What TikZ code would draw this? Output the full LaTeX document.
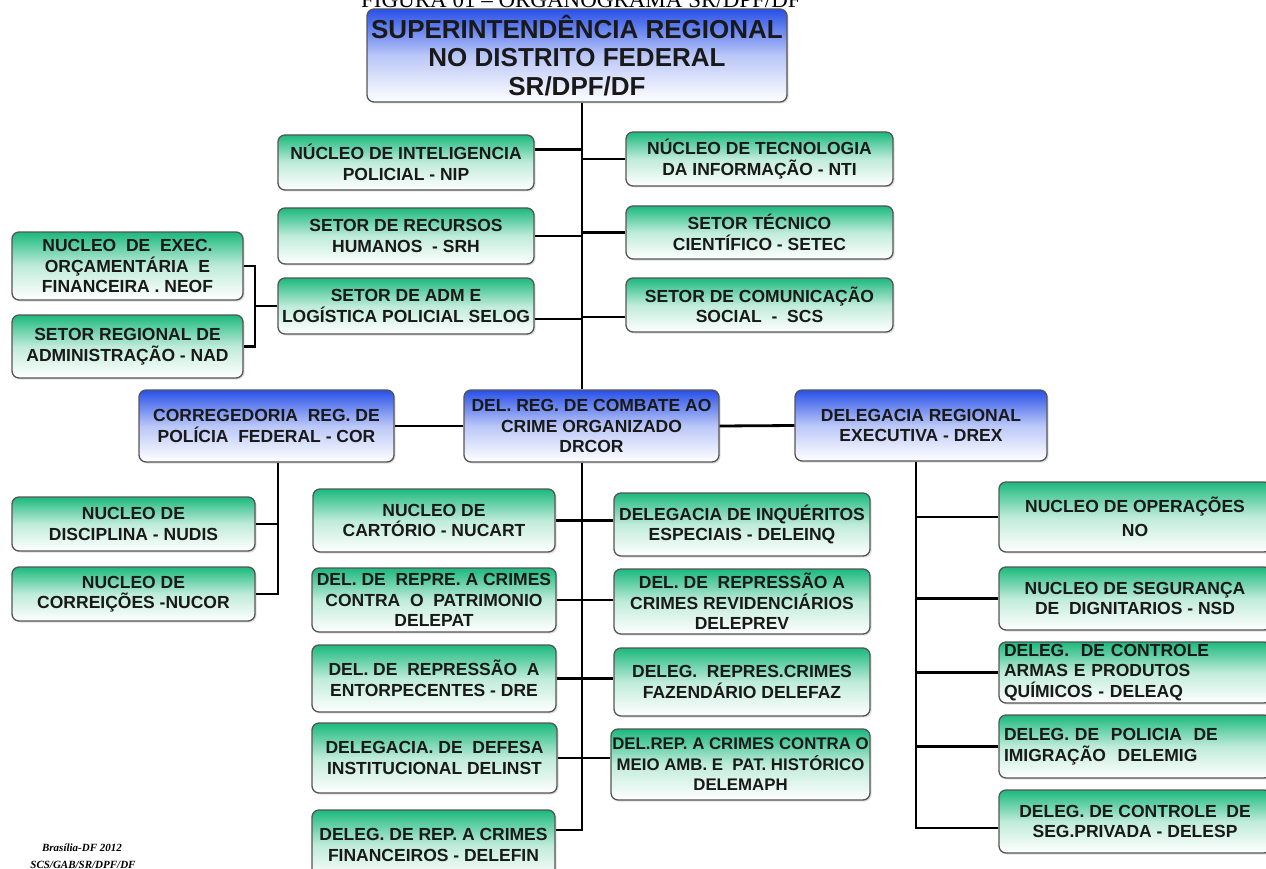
\documentclass[tikz,border=0pt]{standalone}
\usepackage{fontspec}
\setmainfont{Liberation Sans}
\newfontfamily\capfont{Liberation Serif}
\usetikzlibrary{shadows}
\definecolor{boxgreen}{RGB}{28,185,125}
\definecolor{boxblue}{RGB}{40,80,232}
\definecolor{boxline}{RGB}{85,85,85}
\begin{document}
\begin{tikzpicture}[x=1pt, y=-1pt,
  gbox/.style={draw=boxline, line width=1.3pt, rounded corners=7pt,
    top color=boxgreen, bottom color=white, middle color=boxgreen!28,
    align=center, inner sep=1pt, text=black!90,
    font=\bfseries\fontsize{17.5}{20.5}\selectfont,
    drop shadow={opacity=0.25, shadow xshift=1.5pt, shadow yshift=-1.5pt}},
  bbox/.style={gbox, top color=boxblue, bottom color=white, middle color=boxblue!32},
  sz/.style 2 args={minimum width=#1, minimum height=#2},
  link/.style={line width=2.8pt, black}]

% page
\fill[white] (0,0) rectangle (1266,869);
\useasboundingbox (0,0) rectangle (1266,869);

% caption, cut at the top edge
\node[anchor=base, font=\capfont\fontsize{23}{23}\selectfont] (caption) at (581,8) {FIGURA 01 – ORGANOGRAMA SR/DPF/DF};

% head
\node[bbox, sz={420}{93}, font=\bfseries\fontsize{26}{28.5}\selectfont] (sr) at (577,55.5) {SUPERINTENDÊNCIA REGIONAL\\NO DISTRITO FEDERAL\\SR/DPF/DF};

% staff units
\node[gbox, sz={256}{55}] (nip) at (406,162.5) {NÚCLEO DE INTELIGENCIA\\POLICIAL - NIP};
\node[gbox, sz={267}{54}] (nti) at (759.5,159) {NÚCLEO DE TECNOLOGIA\\DA INFORMAÇÃO - NTI};
\node[gbox, sz={256}{56}] (srh) at (406,236) {SETOR DE RECURSOS\\HUMANOS~ - SRH};
\node[gbox, sz={267}{53}] (setec) at (759.5,232.5) {SETOR TÉCNICO\\CIENTÍFICO - SETEC};
\node[gbox, sz={256}{56}] (selog) at (406,306) {SETOR DE ADM E\\LOGÍSTICA POLICIAL SELOG};
\node[gbox, sz={267}{54}] (scs) at (759.5,305) {SETOR DE COMUNICAÇÃO\\SOCIAL~ -~ SCS};
\node[gbox, sz={231}{68}] (neof) at (127.5,266) {NUCLEO~ DE~ EXEC.\\ORÇAMENTÁRIA~ E\\FINANCEIRA . NEOF};
\node[gbox, sz={231}{63}] (nad) at (127.5,346.5) {SETOR REGIONAL DE\\ADMINISTRAÇÃO - NAD};

% second level
\node[bbox, sz={255}{72}] (cor) at (266.5,426) {CORREGEDORIA~ REG. DE\\POLÍCIA~ FEDERAL - COR};
\node[bbox, sz={255}{72}] (drcor) at (591.5,426) {DEL. REG. DE COMBATE AO\\CRIME ORGANIZADO\\DRCOR};
\node[bbox, sz={252}{71}] (drex) at (921,425.5) {DELEGACIA REGIONAL\\EXECUTIVA - DREX};

% under COR
\node[gbox, sz={243}{54}] (nudis) at (133.5,524) {NUCLEO DE\\DISCIPLINA - NUDIS};
\node[gbox, sz={243}{54}] (nucor) at (133.5,594) {NUCLEO DE\\CORREIÇÕES -NUCOR};

% under DRCOR
\node[gbox, sz={242}{63}] (nucart) at (434,520.5) {NUCLEO DE\\CARTÓRIO - NUCART};
\node[gbox, sz={256}{63}] (deleinq) at (742,524.5) {DELEGACIA DE INQUÉRITOS\\ESPECIAIS - DELEINQ};
\node[gbox, sz={244}{64}] (delepat) at (434,600) {DEL. DE~ REPRE. A CRIMES\\CONTRA~ O~ PATRIMONIO\\DELEPAT};
\node[gbox, sz={256}{65}] (deleprev) at (742,601.5) {DEL. DE~ REPRESSÃO A\\CRIMES REVIDENCIÁRIOS\\DELEPREV};
\node[gbox, sz={244}{67}] (dre) at (434,678.5) {DEL. DE~ REPRESSÃO~ A\\ENTORPECENTES - DRE};
\node[gbox, sz={256}{68}] (delefaz) at (742,682) {DELEG.~ REPRES.CRIMES\\FAZENDÁRIO DELEFAZ};
\node[gbox, sz={245}{70}] (delinst) at (434.5,758) {DELEGACIA. DE~ DEFESA\\INSTITUCIONAL DELINST};
\node[gbox, sz={259}{71}, font=\bfseries\fontsize{16.8}{20.5}\selectfont] (delemaph) at (740.5,764.5) {DEL.REP. A CRIMES CONTRA O\\MEIO AMB. E~ PAT. HISTÓRICO\\DELEMAPH};
\node[gbox, sz={243}{70}] (delefin) at (433.5,845) {DELEG. DE REP. A CRIMES\\FINANCEIROS - DELEFIN};

% under DREX (cut at the right edge)
\node[gbox, sz={272}{70}] (no) at (1135,517) {NUCLEO DE OPERAÇÕES\\[4pt]NO};
\node[gbox, sz={272}{63}] (nsd) at (1135,598.5) {NUCLEO DE SEGURANÇA\\DE~ DIGNITARIOS - NSD};
\node[gbox, sz={272}{61}, align=left, text width=262] (deleaq) at (1135,672.5) {DELEG.~ DE CONTROLE\\ARMAS E PRODUTOS\\QUÍMICOS - DELEAQ};
\node[gbox, sz={272}{63}, align=left, text width=262] (delemig) at (1135,746.5) {DELEG. DE~ POLICIA~ DE\\IMIGRAÇÃO~ DELEMIG};
\node[gbox, sz={272}{63}] (delesp) at (1135,821.5) {DELEG. DE CONTROLE~ DE\\SEG.PRIVADA - DELESP};

% footer
\node[anchor=base, font=\capfont\bfseries\itshape\fontsize{11}{11}\selectfont] (place) at (82,851) {Brasília-DF 2012};
\node[anchor=base, font=\capfont\bfseries\itshape\fontsize{11}{11}\selectfont] (sign) at (83,868) {SCS/GAB/SR/DPF/DF};

% lines
\coordinate (trunk) at (582,0);
\coordinate (brk) at (255,306);
\coordinate (corx) at (278,594);
\coordinate (low) at (582,830);
\coordinate (drx) at (916,828);

\draw[link] (sr.south -| trunk) -- (drcor.north -| trunk);
\draw[link] ([yshift=13pt]nip.east) -- ([yshift=13pt]nip.east -| trunk);
\draw[link] (nti.west) -- (nti.west -| trunk);
\draw[link] (srh.east) -- (srh.east -| trunk);
\draw[link] (setec.west) -- (setec.west -| trunk);
\draw[link] ([yshift=-13pt]selog.east) -- ([yshift=-13pt]selog.east -| trunk);
\draw[link] ([yshift=-12pt]scs.west) -- ([yshift=-12pt]scs.west -| trunk);
\draw[link] (neof.east) -| (brk) |- (nad.east);
\draw[link] (brk) -- (brk -| selog.west);

\draw[link] (cor.east) -- (drcor.west);
\draw[link] (drcor.east) -- (drex.west);

\draw[link] (cor.south -| corx) -- (corx) -- (nucor.east);
\draw[link] (nudis.east) -- (nudis.east -| corx);

\draw[link] (drcor.south -| low) -- (low) -- (low -| delefin.east);
\foreach \a/\b in {nucart/deleinq, delepat/deleprev, dre/delefaz, delinst/delemaph}
  \draw[link] (\a.east) -- (\a.east -| \b.west);

\draw[link] (drex.south -| drx) -- (drx) -- (drx -| delesp.west);
\foreach \n in {no, nsd, deleaq, delemig}
  \draw[link] (\n.west -| drx) -- (\n.west);
\end{tikzpicture}
\end{document}
